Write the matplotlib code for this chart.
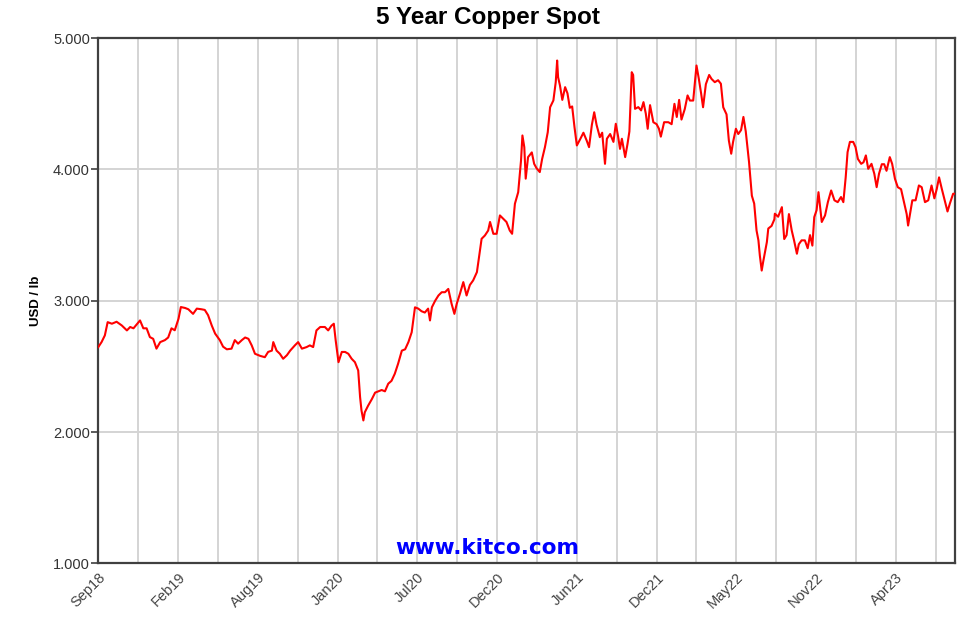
import matplotlib
matplotlib.use("Agg")
import matplotlib.pyplot as plt

# ---- data (days since 2018-09-01, copper spot USD/lb) ----
day_offset = [
    0, 7, 14, 20, 29, 39, 50, 61, 68, 75, 82, 89, 96, 103, 110, 117, 124, 132, 142, 149,
    156, 163, 171, 176, 185, 192, 202, 210, 220, 227, 234, 242, 249, 259, 266, 274, 284, 291, 298, 306,
    313, 320, 327, 334, 345, 355, 362, 370, 373, 380, 387, 394, 402, 409, 419, 426, 434, 444, 451, 458,
    465, 473, 483, 490, 497, 502, 506, 512, 519, 526, 533, 540, 547, 554, 558, 561, 565, 568, 575, 583,
    590, 597, 604, 611, 618, 625, 632, 639, 647, 654, 661, 668, 675, 682, 689, 696, 703, 707, 711, 718,
    725, 732, 739, 746, 753, 759, 764, 771, 778, 785, 792, 799, 807, 811, 817, 824, 831, 835, 842, 849,
    856, 863, 870, 877, 882, 888, 895, 901, 904, 908, 911, 916, 924, 929, 934, 941, 946, 952, 958, 963,
    970, 975, 978, 980, 984, 989, 995, 1000, 1005, 1010, 1015, 1020, 1027, 1034, 1041, 1046, 1052, 1057, 1062, 1069,
    1074, 1080, 1084, 1091, 1098, 1103, 1108, 1112, 1116, 1123, 1128, 1132, 1137, 1140, 1144, 1151, 1157, 1162, 1167, 1171,
    1176, 1183, 1190, 1195, 1199, 1206, 1215, 1222, 1228, 1233, 1238, 1243, 1250, 1256, 1261, 1268, 1275, 1280, 1285, 1289,
    1295, 1302, 1307, 1314, 1321, 1327, 1332, 1339, 1344, 1349, 1353, 1359, 1364, 1370, 1375, 1380, 1387, 1393, 1398, 1403,
    1407, 1410, 1414, 1417, 1425, 1428, 1435, 1441, 1442, 1449, 1457, 1462, 1467, 1472, 1478, 1483, 1489, 1493, 1499, 1506,
    1512, 1517, 1522, 1526, 1531, 1535, 1542, 1549, 1555, 1562, 1569, 1576, 1583, 1588, 1593, 1597, 1602, 1609, 1614, 1619,
    1626, 1631, 1636, 1641, 1648, 1654, 1659, 1664, 1670, 1675, 1680, 1687, 1692, 1698, 1704, 1711, 1718, 1723, 1726, 1730,
    1735, 1742, 1749, 1755, 1762, 1769, 1776, 1782, 1787, 1792, 1798, 1803, 1810, 1815, 1822, 1826,
]
price = [
    2.647, 2.685, 2.736, 2.837, 2.825, 2.84, 2.812, 2.774, 2.80, 2.79, 2.82, 2.85, 2.79, 2.79, 2.723, 2.71, 2.635, 2.685, 2.70, 2.72,
    2.79, 2.775, 2.863, 2.952, 2.945, 2.935, 2.90, 2.94, 2.935, 2.93, 2.89, 2.81, 2.75, 2.70, 2.65, 2.63, 2.635, 2.70, 2.673, 2.70,
    2.72, 2.71, 2.66, 2.596, 2.58, 2.57, 2.61, 2.62, 2.685, 2.62, 2.596, 2.558, 2.585, 2.62, 2.66, 2.685, 2.635, 2.647, 2.66, 2.647,
    2.774, 2.80, 2.80, 2.774, 2.81, 2.825, 2.698, 2.532, 2.61, 2.61, 2.596, 2.558, 2.532, 2.469, 2.266, 2.164, 2.088, 2.15, 2.20, 2.25,
    2.30, 2.31, 2.32, 2.31, 2.368, 2.39, 2.444, 2.52, 2.62, 2.63, 2.685, 2.76, 2.95, 2.94, 2.92, 2.91, 2.94, 2.85, 2.95, 3.00,
    3.04, 3.065, 3.065, 3.09, 2.977, 2.90, 2.977, 3.055, 3.142, 3.04, 3.12, 3.155, 3.218, 3.32, 3.472, 3.497, 3.535, 3.60, 3.51, 3.51,
    3.65, 3.625, 3.60, 3.535, 3.51, 3.739, 3.827, 4.068, 4.259, 4.17, 3.93, 4.094, 4.13, 4.043, 4.01, 3.98, 4.08, 4.17, 4.284, 4.474,
    4.526, 4.665, 4.83, 4.703, 4.64, 4.53, 4.627, 4.58, 4.47, 4.48, 4.322, 4.183, 4.23, 4.28, 4.22, 4.17, 4.34, 4.436, 4.34, 4.246,
    4.28, 4.043, 4.234, 4.27, 4.21, 4.348, 4.25, 4.157, 4.234, 4.094, 4.195, 4.29, 4.741, 4.72, 4.462, 4.475, 4.45, 4.513, 4.425, 4.31,
    4.49, 4.36, 4.345, 4.31, 4.25, 4.36, 4.36, 4.345, 4.50, 4.40, 4.53, 4.38, 4.46, 4.564, 4.525, 4.525, 4.792, 4.69, 4.576, 4.474,
    4.65, 4.72, 4.69, 4.665, 4.68, 4.653, 4.474, 4.42, 4.22, 4.12, 4.21, 4.31, 4.27, 4.30, 4.40, 4.29, 4.056, 3.80, 3.74, 3.535,
    3.46, 3.345, 3.23, 3.294, 3.447, 3.55, 3.57, 3.62, 3.663, 3.64, 3.713, 3.47, 3.50, 3.66, 3.535, 3.459, 3.358, 3.43, 3.46, 3.46,
    3.40, 3.50, 3.42, 3.637, 3.69, 3.827, 3.60, 3.65, 3.751, 3.84, 3.765, 3.751, 3.79, 3.751, 3.94, 4.132, 4.21, 4.21, 4.17, 4.08,
    4.043, 4.055, 4.107, 4.005, 4.043, 3.967, 3.865, 3.967, 4.04, 4.04, 3.99, 4.094, 4.043, 3.929, 3.865, 3.85, 3.739, 3.66, 3.573, 3.66,
    3.765, 3.765, 3.878, 3.865, 3.751, 3.765, 3.878, 3.78, 3.85, 3.94, 3.85, 3.78, 3.68, 3.74, 3.815, 3.815,
]

x_tick_labels = ["Sep18", "Feb19", "Aug19", "Jan20", "Jul20", "Dec20",
                 "Jun21", "Dec21", "May22", "Nov22", "Apr23"]
y_tick_values = [1, 2, 3, 4, 5]
y_tick_labels = ["1.000", "2.000", "3.000", "4.000", "5.000"]
grid_step_days = 85
total_days = 1826

plt.rcParams["font.family"] = ["Liberation Sans", "DejaVu Sans"]

fig = plt.figure(figsize=(9.75, 6.19), dpi=100)
ax = fig.add_axes([0.1008, 0.09, 0.8787, 0.8483])

ax.plot(day_offset, price, color="#ff0000", lw=1.5, zorder=3)

ax.set_xlim(0, total_days)
ax.set_ylim(1, 5)

# vertical grid every 85 days, labels every other line
grid_x = [i * grid_step_days for i in range(22)]
ax.set_xticks(grid_x, minor=True)
label_x = [i * 2 * grid_step_days for i in range(len(x_tick_labels))]
ax.set_xticks(label_x)
ax.set_xticklabels(x_tick_labels, rotation=45, ha="right", va="top",
                   rotation_mode="anchor", fontsize=10.5, color="#444444")
ax.tick_params(axis="x", which="both", length=0, pad=5)

ax.set_yticks(y_tick_values)
ax.set_yticklabels(y_tick_labels, fontsize=10.5, color="#333333")
ax.tick_params(axis="y", length=5, width=1.2, color="#404040", pad=1)

for gx in grid_x[1:]:
    ax.axvline(gx, color="#d4d4d4", lw=1.4, zorder=1)
for gy in y_tick_values[1:-1]:
    ax.axhline(gy, color="#d4d4d4", lw=1.4, zorder=1)

for s in ax.spines.values():
    s.set_color("#404040")
    s.set_linewidth(1.6)

ax.set_ylabel("USD / lb", fontsize=9.5, fontweight="bold", labelpad=8)
fig.text(0.5, 0.971, "5 Year Copper Spot", ha="center", va="center",
         fontsize=17.5, fontweight="bold")
fig.text(0.5, 1 - 554 / 619, "www.kitco.com", ha="center",
         va="baseline", fontsize=15.5, fontweight="bold", color="#0000ff",
         family=["DejaVu Sans"], zorder=4)

fig.savefig("out.png", dpi=100)
